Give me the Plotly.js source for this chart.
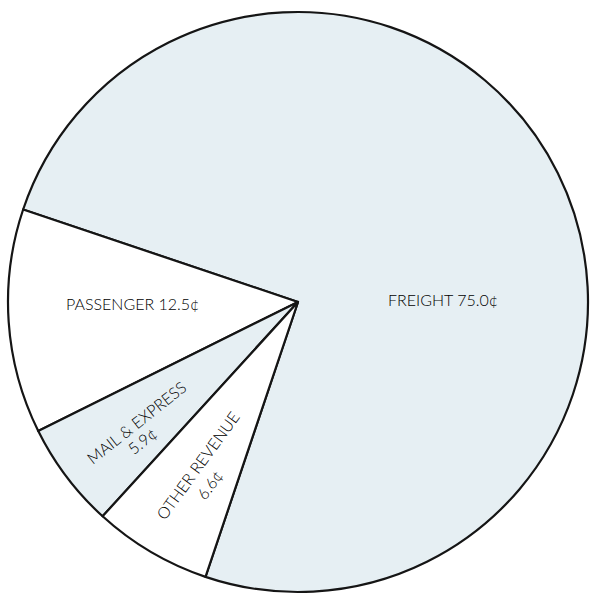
<!DOCTYPE html>
<html>
<head>
<meta charset="utf-8">
<script src="https://cdn.plot.ly/plotly-3.0.1.min.js"></script>
<style>
  html, body { margin: 0; padding: 0; background: #ffffff; }
  #chart { width: 590px; height: 595px; }
</style>
</head>
<body>
<div id="chart"></div>
<script>
// Data (cents of each revenue dollar)
const categories = ["Freight", "Passenger", "Mail & Express", "Other Revenue"];
const values = [75.0, 12.5, 5.9, 6.6];
const sliceLabels = ["FREIGHT 75.0¢", "PASSENGER 12.5¢", "MAIL & EXPRESS", "OTHER REVENUE"];
const valueLabels = ["75.0¢", "12.5¢", "5.9¢", "6.6¢"];

const fillBlue = "#e6eff3";
const fills = [fillBlue, "#ffffff", fillBlue, "#ffffff"];

const W = 590, H = 595;
const px = x => x / W;
const py = y => (H - y) / H;

const textFont = { family: "Lato, 'Noto Sans', sans-serif", size: 16, weight: 300, color: "#000000" };

const trace = {
  type: "pie",
  labels: categories,
  values: values,
  sort: false,
  direction: "counterclockwise",
  rotation: -71.4,
  textinfo: "none",
  hoverinfo: "skip",
  showlegend: false,
  marker: { colors: fills, line: { color: "#151515", width: 2.2 } },
  domain: { x: [px(8), px(588)], y: [py(592), py(12)] }
};

const annotations = [
  { text: sliceLabels[0], x: px(443), y: py(299), textangle: 0 },
  { text: sliceLabels[1], x: px(132), y: py(303), textangle: 0 },
  { text: sliceLabels[2], x: px(136), y: py(423), textangle: -38.5 },
  { text: valueLabels[2], x: px(142), y: py(440), textangle: -38.5 },
  { text: sliceLabels[3], x: px(197), y: py(465), textangle: -54 },
  { text: valueLabels[3], x: px(209), y: py(484), textangle: -54 }
].map(a => Object.assign({
  xref: "paper", yref: "paper", showarrow: false,
  xanchor: "center", yanchor: "middle", font: textFont
}, a));

const layout = {
  width: W, height: H,
  margin: { l: 0, r: 0, t: 0, b: 0 },
  paper_bgcolor: "#ffffff",
  plot_bgcolor: "#ffffff",
  annotations: annotations
};

Plotly.newPlot("chart", [trace], layout, { displayModeBar: false, staticPlot: true });
</script>
</body>
</html>
